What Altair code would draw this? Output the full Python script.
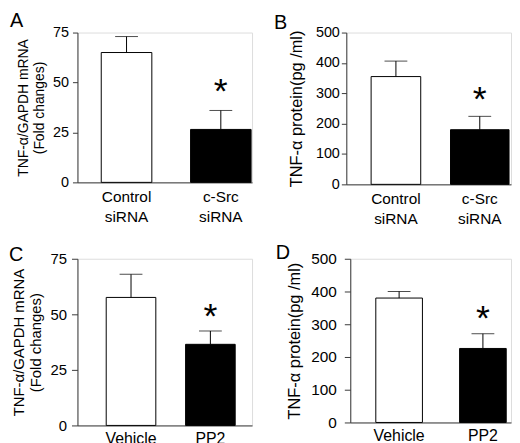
import altair as alt
import pandas as pd

# ---- data ----
a_groups = ["Control siRNA", "c-Src siRNA"]
a_mean = [65, 26.5]
a_upper = [73, 36]

b_groups = ["Control siRNA", "c-Src siRNA"]
b_mean = [355, 180]
b_upper = [406, 224]

c_groups = ["Vehicle", "PP2"]
c_mean = [57.6, 36.5]
c_upper = [68, 42.5]

d_groups = ["Vehicle", "PP2"]
d_mean = [380, 226]
d_upper = [400, 271]

significant = ["", "*"]
kinds = ["control", "treated"]

mrna_ticks = [0, 25, 50, 75]
protein_ticks = [0, 100, 200, 300, 400, 500]
mrna_title = ["TNF-α/GAPDH mRNA", "(Fold changes)"]
protein_title = "TNF-α protein(pg /ml)"

FONT = "Liberation Sans"
AX = "#3a3a3a"


def panel(letter, groups, mean, upper, ymax, yticks, ytitle, w, h,
          bar_w, po, align, lab_size, xlab_size, xlab_pad, title_size, lx, ly,
          title_pad, label_pad, tick_size, star_dy):
    df = pd.DataFrame({"group": groups, "mean": mean, "upper": upper,
                       "sig": significant, "kind": kinds})
    x = alt.X("group:N", sort=groups,
              scale=alt.Scale(paddingInner=0.5, paddingOuter=po, align=align),
              axis=alt.Axis(title=None, labelAngle=0, ticks=False, tickSize=0,
                            labelExpr="split(datum.label, ' ')",
                            labelFontSize=xlab_size, labelFont=FONT,
                            labelColor="black", labelPadding=xlab_pad,
                            labelLineHeight=20, domainColor=AX))
    y_scale = alt.Scale(domain=[0, ymax], nice=False, zero=True)
    y_axis = alt.Axis(values=yticks, title=ytitle, grid=False,
                      labelOverlap=False, labelFlush=False, labelBound=False,
                      titleFont=FONT, titleFontSize=title_size,
                      titleFontWeight="normal", titleColor="black",
                      titlePadding=title_pad, titleLineHeight=title_size + 2,
                      labelFont=FONT, labelFontSize=lab_size,
                      labelColor="black", labelPadding=label_pad,
                      tickSize=tick_size, tickColor=AX, domainColor=AX)
    y_mean = alt.Y("mean:Q", scale=y_scale, axis=y_axis)
    y_up = alt.Y("upper:Q", scale=y_scale, axis=y_axis)
    base = alt.Chart(df)
    ctrl = base.transform_filter(alt.datum.kind == "control").mark_bar(
        width=bar_w[0], fill="white", stroke="black", strokeWidth=1).encode(x=x, y=y_mean)
    trt = base.transform_filter(alt.datum.kind == "treated").mark_bar(
        width=bar_w[1], fill="black", stroke="black", strokeWidth=1).encode(x=x, y=y_mean)
    err = base.mark_rule(color="black", strokeWidth=1).encode(
        x=x, y=y_mean, y2="upper:Q")
    cap = base.mark_tick(color="black", size=23, thickness=1, orient="horizontal").encode(
        x=x, y=y_up)
    star = base.transform_filter(alt.datum.sig != "").mark_text(
        font=FONT, fontSize=36, baseline="alphabetic", align="center",
        dy=star_dy, color="black").encode(x=x, y=y_up, text="sig:N")
    lab = alt.Chart(pd.DataFrame({"panel": [letter]})).mark_text(
        font=FONT, fontSize=20, align="left", baseline="top", color="black").encode(
        text="panel:N", x=alt.value(lx), y=alt.value(ly))
    return alt.layer(ctrl, trt, err, cap, star, lab).properties(width=w, height=h)


pA = panel("A", a_groups, a_mean, a_upper, 75, mrna_ticks, mrna_title, 176, 151,
           [51, 61], 0.176, 0.769, 14.5, 15.5, 7, 14, -68, -22, 6, 4, 5, -8)
pB = panel("B", b_groups, b_mean, b_upper, 500, protein_ticks, protein_title, 166, 153,
           [50, 59], 0.232, 0.736, 14.5, 15.5, 7, 16.5, -73, -20, 11, 2, 5, -5)
pC = panel("C", c_groups, c_mean, c_upper, 75, mrna_ticks, mrna_title, 176, 168,
           [50, 50], 0.35, 0.607, 15, 16, 5, 15, -69, -13.5, 7, 5, 6, -3)
pD = panel("D", d_groups, d_mean, d_upper, 500, protein_ticks, protein_title, 162, 165,
           [47, 47], 0.209, 0.796, 15.5, 16, 5, 16.5, -75, -15.5, 8, 8, 6, -4)

chart = alt.vconcat(
    alt.hconcat(pA, pB, spacing=20),
    alt.hconcat(pC, pD, spacing=22),
    spacing=16,
).properties(padding=0).configure_view(stroke=None).configure(font=FONT)

chart.save("out.html", embed_options={"renderer": "svg", "actions": False})
